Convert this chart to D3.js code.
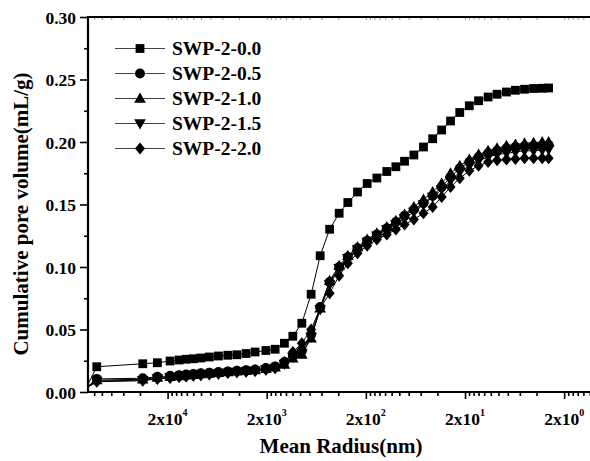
<!DOCTYPE html>
<html>
<head>
<meta charset="utf-8">
<script src="https://cdn.jsdelivr.net/npm/d3@7"></script>
<style>
  html, body { margin: 0; padding: 0; background: #fff; }
  svg { display: block; }
  text { font-family: "Liberation Serif", "Times New Roman", serif; font-weight: bold; fill: #000; }
</style>
</head>
<body>
<svg id="chart" width="590" height="461"></svg>
<script>
// ---- data ----
const radius = [139000, 103600, 35600, 25350, 18870, 15310, 13010, 10980, 9250, 7580, 6140, 4940, 4000, 3230, 2620, 2040, 1645, 1326, 1091, 885, 713, 578, 464, 372, 304, 243, 194, 155, 123, 99.6, 81.5, 65.6, 52.5, 42.4, 34.4, 28.0, 22.6, 18.1, 14.6, 11.7, 9.5, 7.64, 6.20, 5.02, 4.07, 3.33, 2.87];
const swp00 = [0, 0.0202, 0.0226, 0.0234, 0.0248, 0.0256, 0.0262, 0.0266, 0.0272, 0.028, 0.0288, 0.0294, 0.0298, 0.0308, 0.032, 0.0332, 0.0342, 0.039, 0.0446, 0.055, 0.0782, 0.109, 0.1302, 0.143, 0.1516, 0.16, 0.1668, 0.1712, 0.1764, 0.1802, 0.1846, 0.1896, 0.196, 0.2026, 0.2096, 0.2168, 0.2236, 0.229, 0.233, 0.236, 0.2382, 0.24, 0.2414, 0.2422, 0.2428, 0.243, 0.2432];
const swp05 = [0.002, 0.0105, 0.011, 0.0122, 0.013, 0.0135, 0.014, 0.0145, 0.015, 0.0155, 0.016, 0.0165, 0.017, 0.0175, 0.018, 0.0192, 0.0205, 0.024, 0.029, 0.033, 0.046, 0.068, 0.088, 0.100, 0.108, 0.115, 0.121, 0.126, 0.131, 0.136, 0.141, 0.146, 0.151, 0.157, 0.164, 0.172, 0.179, 0.184, 0.188, 0.191, 0.193, 0.195, 0.196, 0.1965, 0.197, 0.197, 0.1975];
const swp10 = [0.002, 0.0095, 0.0102, 0.0115, 0.0122, 0.0128, 0.0133, 0.0138, 0.0143, 0.0148, 0.0154, 0.016, 0.0165, 0.017, 0.0176, 0.0186, 0.0198, 0.022, 0.027, 0.030, 0.043, 0.067, 0.089, 0.101, 0.109, 0.116, 0.122, 0.127, 0.132, 0.137, 0.142, 0.148, 0.154, 0.160, 0.167, 0.175, 0.181, 0.186, 0.190, 0.193, 0.195, 0.197, 0.198, 0.199, 0.1995, 0.2, 0.2];
const swp15 = [0.002, 0.0088, 0.0095, 0.0108, 0.0116, 0.0122, 0.0127, 0.0132, 0.0137, 0.0142, 0.0148, 0.0154, 0.016, 0.0165, 0.017, 0.018, 0.0192, 0.0225, 0.028, 0.031, 0.044, 0.066, 0.086, 0.099, 0.107, 0.114, 0.120, 0.125, 0.130, 0.134, 0.139, 0.144, 0.150, 0.156, 0.162, 0.169, 0.176, 0.181, 0.185, 0.188, 0.190, 0.191, 0.192, 0.193, 0.193, 0.1935, 0.194];
const swp20 = [0.002, 0.0082, 0.009, 0.0105, 0.0113, 0.012, 0.0125, 0.013, 0.0135, 0.014, 0.0146, 0.0152, 0.0158, 0.0163, 0.0168, 0.0178, 0.019, 0.024, 0.032, 0.039, 0.050, 0.067, 0.079, 0.093, 0.103, 0.111, 0.117, 0.122, 0.126, 0.130, 0.134, 0.138, 0.143, 0.148, 0.156, 0.164, 0.171, 0.177, 0.181, 0.184, 0.1855, 0.186, 0.1865, 0.187, 0.187, 0.187, 0.187];
const seriesNames = ["SWP-2-0.0", "SWP-2-0.5", "SWP-2-1.0", "SWP-2-1.5", "SWP-2-2.0"];
const seriesValues = [swp00, swp05, swp10, swp15, swp20];
const seriesShapes = ["square", "circle", "triUp", "triDown", "diamond"];
const xMajorTicks = [20000, 2000, 200, 20, 2];
const xTickExponents = ["4", "3", "2", "1", "0"];
const yTicks = [0, 0.05, 0.10, 0.15, 0.20, 0.25, 0.30];
const xTitle = "Mean Radius(nm)";
const yTitle = "Cumulative pore volume(mL/g)";

// ---- layout ----
const L = 88, R = 594, T = 17, B = 392;
const svg = d3.select("#chart");
const x = d3.scaleLog().domain([1.27e5, 1]).range([L, R]);
const y = d3.scaleLinear().domain([0, 0.30]).range([B, T]);

// minor ticks: 9 linear subdivisions between majors
const xDomMax = 1.27e5, xDomMin = 1;
let xMinor = [];
[200000].concat(xMajorTicks).forEach(m => {
  const lo = m / 10;
  for (let k = 1; k <= 9; k++) {
    const v = lo + k * (m - lo) / 10;
    if (v <= xDomMax && v >= xDomMin) xMinor.push(v);
  }
});
const yMinor = d3.range(0.025, 0.30, 0.05);

svg.append("defs").append("clipPath").attr("id", "clip")
  .append("rect").attr("x", L).attr("y", T - 10).attr("width", R - L).attr("height", B - T + 10);

// ---- axes ----
const gx = svg.append("g").attr("transform", `translate(0,${B})`);
gx.call(d3.axisBottom(x).tickValues(xMinor).tickSize(4).tickSizeOuter(0).tickFormat(() => ""));
gx.selectAll(".domain").remove();
gx.selectAll(".tick line").attr("stroke-width", 1.6);
const gx2 = svg.append("g").attr("transform", `translate(0,${B})`);
gx2.call(d3.axisBottom(x).tickValues(xMajorTicks).tickSize(7).tickSizeOuter(0).tickFormat(() => ""));
gx2.selectAll(".domain").remove();
gx2.selectAll(".tick line").attr("stroke-width", 1.6);

// top axis with inward faint ticks
const gt = svg.append("g").attr("transform", `translate(0,${T})`);
gt.call(d3.axisTop(x).tickValues(xMinor.concat(xMajorTicks)).tickSize(-3).tickSizeOuter(0).tickFormat(() => ""));
gt.selectAll(".domain").remove();
gt.selectAll(".tick line").attr("stroke", "#999").attr("stroke-width", 1);

const gy = svg.append("g").attr("transform", `translate(${L},0)`);
gy.call(d3.axisLeft(y).tickValues(yMinor).tickSize(4).tickSizeOuter(0).tickFormat(() => ""));
gy.selectAll(".domain").remove();
gy.selectAll(".tick line").attr("stroke-width", 1.6);
const gy2 = svg.append("g").attr("transform", `translate(${L},0)`);
gy2.call(d3.axisLeft(y).tickValues(yTicks).tickSize(8).tickSizeOuter(0).tickFormat(d3.format(".2f")));
gy2.selectAll(".domain").remove();
gy2.selectAll(".tick line").attr("stroke-width", 1.6);
gy2.selectAll(".tick text").attr("x", -12).attr("dy", "0.36em")
  .style("font-family", '"Liberation Serif", "Times New Roman", serif')
  .style("font-weight", "bold").style("font-size", "17.5px").attr("fill", "#000");

// axis lines
svg.append("line").attr("x1", L).attr("x2", R).attr("y1", B).attr("y2", B).attr("stroke", "#000").attr("stroke-width", 2.2);
svg.append("line").attr("x1", L).attr("x2", R).attr("y1", T).attr("y2", T).attr("stroke", "#000").attr("stroke-width", 2.2);
svg.append("line").attr("x1", L).attr("x2", L).attr("y1", T - 1).attr("y2", B + 1).attr("stroke", "#000").attr("stroke-width", 2.2);

// x tick labels with superscripts
xMajorTicks.forEach((v, i) => {
  const t = svg.append("text").attr("x", x(v)).attr("y", 425).attr("text-anchor", "middle").style("font-size", "17.5px");
  t.append("tspan").text("2x10");
  t.append("tspan").attr("dy", -9).style("font-size", "10px").text(xTickExponents[i]);
});

// titles
svg.append("text").attr("x", 341).attr("y", 453).attr("text-anchor", "middle").style("font-size", "21px").text(xTitle);
svg.append("text").attr("transform", "translate(28,214) rotate(-90)").attr("text-anchor", "middle").style("font-size", "21px").text(yTitle);

// ---- symbols ----
function symPath(shape) {
  switch (shape) {
    case "square": return "M-4.4,-4.4H4.4V4.4H-4.4Z";
    case "circle": return "M-5,0A5,5 0 1,0 5,0A5,5 0 1,0 -5,0Z";
    case "triUp": return "M0,-6L5.8,4.2L-5.8,4.2Z";
    case "triDown": return "M0,6L5.8,-4.2L-5.8,-4.2Z";
    case "diamond": return "M0,-6L5,0L0,6L-5,0Z";
  }
}

const plot = svg.append("g").attr("clip-path", "url(#clip)");
const line = d3.line().x((d, i) => x(radius[i])).y(d => y(d));
seriesValues.forEach((vals, si) => {
  plot.append("path").attr("d", line(vals)).attr("fill", "none").attr("stroke", "#000").attr("stroke-width", 1);
});
seriesValues.forEach((vals, si) => {
  plot.append("g").selectAll("path").data(vals).join("path")
    .attr("transform", (d, i) => `translate(${x(radius[i])},${y(d)})`)
    .attr("d", symPath(seriesShapes[si])).attr("fill", "#000");
});

// ---- legend ----
const leg = svg.append("g");
seriesNames.forEach((name, i) => {
  const yy = 48.5 + i * 25;
  leg.append("line").attr("x1", 115).attr("x2", 165).attr("y1", yy).attr("y2", yy).attr("stroke", "#444").attr("stroke-width", 1.2);
  leg.append("path").attr("transform", `translate(140,${yy})`).attr("d", symPath(seriesShapes[i])).attr("fill", "#000");
  leg.append("text").attr("x", 172).attr("y", yy + 6.5).style("font-size", "19.5px").text(name);
});
</script>
</body>
</html>
